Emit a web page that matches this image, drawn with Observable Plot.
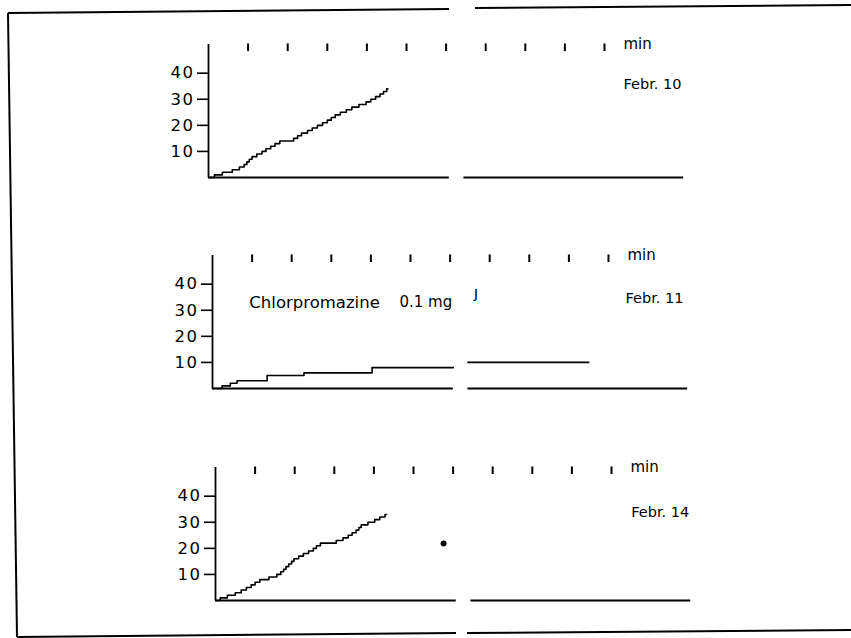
<!DOCTYPE html>
<html><head><meta charset="utf-8">
<script src="https://cdn.jsdelivr.net/npm/d3@7"></script>
<script src="https://cdn.jsdelivr.net/npm/@observablehq/plot@0.6"></script>
<style>
html,body{margin:0;padding:0;background:#fff;}
#wrap{position:relative;width:851px;height:638px;overflow:hidden;background:#fff;}
#wrap svg{position:absolute;left:0;}
#wrap g[aria-label="y-axis tick label"]{letter-spacing:1.5px;}
</style></head><body><div id="wrap"></div>
<script>
// ---------- data ----------
const panelNames = ["Febr. 10", "Febr. 11", "Febr. 14"];
const minuteTicks = [1, 2, 3, 4, 5, 6, 7, 8, 9, 10];
const yTicks = [10, 20, 30, 40];
const timeUnit = "min";

// cumulative responses: time (min) of each step and count reached
const feb10Times = [0.15,0.35,0.6,0.78,0.9,0.97,1.03,1.1,1.22,1.35,1.45,1.57,1.68,1.8,2.15,2.25,2.35,2.5,2.62,2.75,2.88,3.0,3.1,3.2,3.33,3.48,3.62,3.8,3.98,4.1,4.22,4.33,4.42,4.5];
const feb10Counts = [1,2,3,4,5,6,7,8,9,10,11,12,13,14,15,16,17,18,19,20,21,22,23,24,25,26,27,28,29,30,31,32,33,34];
const feb10End = 4.53;

const feb11Times = [0.24,0.45,0.62,1.38,2.31,4.03,6.25];
const feb11Counts = [1,2,3,5,6,8,10];
const feb11End = 9.5;

const feb14Times = [0.12,0.3,0.5,0.65,0.78,0.9,1.0,1.12,1.35,1.55,1.65,1.72,1.78,1.85,1.92,1.98,2.1,2.22,2.35,2.47,2.55,2.65,3.05,3.22,3.35,3.45,3.55,3.62,3.68,3.85,4.02,4.15,4.28];
const feb14Counts = [1,2,3,4,5,6,7,8,9,10,11,12,13,14,15,16,17,18,19,20,21,22,23,24,25,26,27,28,29,30,31,32,33];
const feb14End = 4.32;
const feb14Mark = [{t: 5.76, v: 21.9}];

const drugText = ["Chlorpromazine", "0.1 mg"];
const injectionMark = ["ȷ"];
const foldGap = [6.08, 6.45]; // minutes hidden by the fold of the scanned page

// ---------- layout ----------
const W = 851, H = 212, pxPerMin = 39.6;
const panelTop = [0, 211, 423];
const panelLeft = [208, 212, 215];
const nameY = [35.6, 34.4, 33.7];
const nameX = [10.48, 10.43, 10.5];
const font = "'DejaVu Sans', sans-serif";
const ink = "#000";

function stepSeries(times, counts, end) {
  const pts = [{t: 0, v: 0}];
  times.forEach((t, i) => pts.push({t, v: counts[i]}));
  pts.push({t: end, v: counts[counts.length - 1]});
  const [g0, g1] = foldGap;
  if (end <= g0) return pts.map(p => ({...p, seg: 0}));
  const valueAt = x => { let v = 0; for (const p of pts) if (p.t <= x) v = p.v; return v; };
  const out = pts.filter(p => p.t <= g0).map(p => ({...p, seg: 0}));
  out.push({t: g0, v: valueAt(g0), seg: 0});
  out.push({t: g1, v: valueAt(g1), seg: 1});
  pts.filter(p => p.t > g1).forEach(p => out.push({...p, seg: 1}));
  return out;
}

const series = [
  stepSeries(feb10Times, feb10Counts, feb10End),
  stepSeries(feb11Times, feb11Counts, feb11End),
  stepSeries(feb14Times, feb14Counts, feb14End)
];
const baseline = [{a: 0, b: foldGap[0]}, {a: foldGap[1], b: 12}];

const wrap = document.getElementById("wrap");

panelNames.forEach((name, i) => {
  const L = panelLeft[i];
  const extra = [];
  if (i === 1) {
    extra.push(Plot.text([drugText[0]], {x: 0.93, y: 33.0, text: d => d, textAnchor: "start", lineAnchor: "middle", fontSize: 16.5, fontFamily: font, fill: ink}));
    extra.push(Plot.text([drugText[1]], {x: 4.72, y: 33.0, text: d => d, textAnchor: "start", lineAnchor: "middle", fontSize: 15, fontFamily: font, fill: ink}));
    extra.push(Plot.text(injectionMark, {x: 6.6, y: 36.5, text: d => d, textAnchor: "start", lineAnchor: "middle", fontSize: 16, fontFamily: font, fill: ink}));
  }
  if (i === 2) {
    extra.push(Plot.dot(feb14Mark, {x: "t", y: "v", r: 3, fill: ink, stroke: "none"}));
  }
  const svg = Plot.plot({
    width: W, height: H,
    marginLeft: L, marginRight: W - L - 12 * pxPerMin, marginTop: 44, marginBottom: 35,
    x: {domain: [0, 12], axis: null},
    y: {domain: [0, 51], axis: null},
    style: {background: "none", color: ink, fontFamily: font},
    marks: [
      Plot.ruleX([0], {stroke: ink, strokeWidth: 1.8}),
      Plot.ruleY(baseline, {x1: "a", x2: "b", y: 0, stroke: ink, strokeWidth: 2}),
      Plot.axisY({ticks: yTicks, tickSize: 11, tickPadding: 3, fontSize: 16.5, fontFamily: font, tickFormat: d => String(d), stroke: ink, strokeWidth: 1.6, fill: ink, label: null}),
      Plot.ruleX(minuteTicks, {y1: 48.3, y2: 51.2, stroke: ink, strokeWidth: 2}),
      Plot.text([timeUnit], {x: 10.48, y: 51, text: d => d, textAnchor: "start", lineAnchor: "middle", fontSize: 15, fontFamily: font, fill: ink}),
      Plot.line(series[i], {x: "t", y: "v", z: "seg", curve: "step-after", stroke: ink, strokeWidth: 1.6}),
      Plot.text([name], {x: nameX[i], y: nameY[i], text: d => d, textAnchor: "start", lineAnchor: "middle", fontSize: 14.5, fontFamily: font, fill: ink}),
      ...extra
    ]
  });
  svg.style.top = panelTop[i] + "px";
  svg.style.left = "0px";
  wrap.appendChild(svg);
});

// page frame of the scanned figure (decoration)
const frameLines = [[8,13,449,9],[475,8,851,5],[8,13,17,637],[17,637,456,633],[467,633,851,630]];
const frame = d3.select(wrap).append("svg")
  .attr("width", W).attr("height", 638)
  .style("top", "0px").style("left", "0px").style("pointer-events", "none");
frame.selectAll("line").data(frameLines).join("line")
  .attr("x1", d => d[0]).attr("y1", d => d[1]).attr("x2", d => d[2]).attr("y2", d => d[3])
  .attr("stroke", ink).attr("stroke-width", 2);
</script>
</body></html>
